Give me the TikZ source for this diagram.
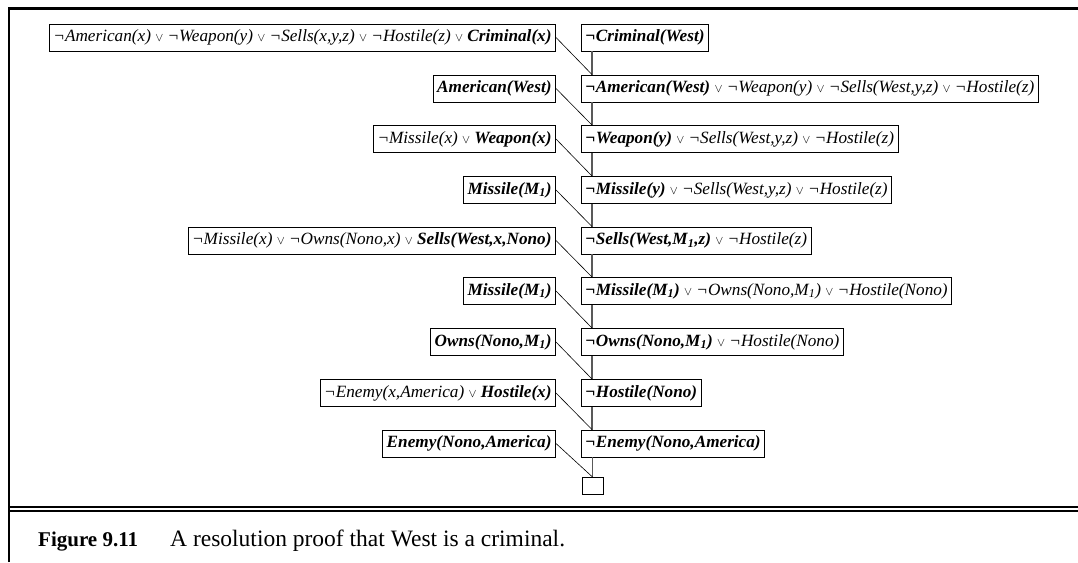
\documentclass[tikz,border=0pt]{standalone}
\usepackage{fontspec}
\setmainfont{Liberation Serif}
\usetikzlibrary{calc}
% disjunction sign, a little smaller than the clause text
\newcommand{\vor}{ {\fontsize{13}{13}\selectfont$\vee$} }
\begin{document}
\begin{tikzpicture}[x=1pt,y=-1pt,
  clause/.style={draw, line width=0.9pt, inner xsep=4pt, inner ysep=0pt,
    minimum height=27pt, font=\fontsize{17.2}{19}\selectfont\itshape},
  leftclause/.style={clause, anchor=east},
  rightclause/.style={clause, anchor=west},
  resolvent/.style={line width=0.6pt},
  trunk/.style={line width=1.6pt, draw=black!65},
  frameline/.style={line width=2.7pt, line join=miter}]
\useasboundingbox (0,0) rectangle (1078,562);

% outer frame and caption rules
\draw[frameline] (9,562) -- (9,8.3) -- (1078,8.3);
\draw[line width=2pt] (9,506.7) -- (1078,506.7);
\draw[line width=2pt] (9,511) -- (1078,511);

% clauses fed in from the knowledge base (left column)
\node[leftclause] (L1) at (556,37.5) {¬American(x)\vor ¬Weapon(y)\vor ¬Sells(x,y,z)\vor ¬Hostile(z)\vor \textbf{Criminal(x)}};
\node[leftclause] (L2) at (556,88.5) {\textbf{American(West)}};
\node[leftclause] (L3) at (556,139) {¬Missile(x)\vor \textbf{Weapon(x)}};
\node[leftclause] (L4) at (556,190) {\textbf{Missile(M\textsubscript{1})}};
\node[leftclause] (L5) at (556,240.5) {¬Missile(x)\vor ¬Owns(Nono,x)\vor \textbf{Sells(West,x,Nono)}};
\node[leftclause] (L6) at (556,291) {\textbf{Missile(M\textsubscript{1})}};
\node[leftclause] (L7) at (556,342) {\textbf{Owns(Nono,M\textsubscript{1})}};
\node[leftclause] (L8) at (556,393) {¬Enemy(x,America)\vor \textbf{Hostile(x)}};
\node[leftclause] (L9) at (556,443.5) {\textbf{Enemy(Nono,America)}};

% chain of resolvents (right column)
\node[rightclause] (R1) at (581,37.5) {\textbf{¬Criminal(West)}};
\node[rightclause] (R2) at (581,88.5) {\textbf{¬American(West)}\vor ¬Weapon(y)\vor ¬Sells(West,y,z)\vor ¬Hostile(z)};
\node[rightclause] (R3) at (581,139) {\textbf{¬Weapon(y)}\vor ¬Sells(West,y,z)\vor ¬Hostile(z)};
\node[rightclause] (R4) at (581,190) {\textbf{¬Missile(y)}\vor ¬Sells(West,y,z)\vor ¬Hostile(z)};
\node[rightclause] (R5) at (581,240.5) {\textbf{¬Sells(West,M\textsubscript{1},z)}\vor ¬Hostile(z)};
\node[rightclause] (R6) at (581,291) {\textbf{¬Missile(M\textsubscript{1})}\vor ¬Owns(Nono,M\textsubscript{1})\vor ¬Hostile(Nono)};
\node[rightclause] (R7) at (581,342) {\textbf{¬Owns(Nono,M\textsubscript{1})}\vor ¬Hostile(Nono)};
\node[rightclause] (R8) at (581,393) {\textbf{¬Hostile(Nono)}};
\node[rightclause] (R9) at (581,443.5) {\textbf{¬Enemy(Nono,America)}};

% empty clause
\node[draw, line width=0.9pt, minimum width=21pt, minimum height=17pt, inner sep=0pt, anchor=north]
  (E) at (592.5,477) {};

% junction points on the trunk
\foreach \i in {2,...,9} {
  \coordinate (J\i) at ($(R\i.north west)+(11,0)$);
}

% resolution steps
\foreach \i [evaluate=\i as \j using int(\i+1)] in {1,...,8} {
  \draw[trunk] (J\j |- R\i.south) -- (J\j);
  \draw[resolvent] (L\i.east) -- (J\j);
}
\draw[trunk] (E.north |- R9.south) -- (E.north);
\draw[resolvent] (L9.east) -- (E.north);

% caption
\node[anchor=base west, inner sep=0pt, font=\fontsize{21}{25}\selectfont\bfseries] (fig) at (38,546) {Figure 9.11};
\node[anchor=base west, inner sep=0pt, font=\fontsize{23.5}{28}\selectfont] (cap) at (170,546) {A resolution proof that West is a criminal.};
\end{tikzpicture}
\end{document}
